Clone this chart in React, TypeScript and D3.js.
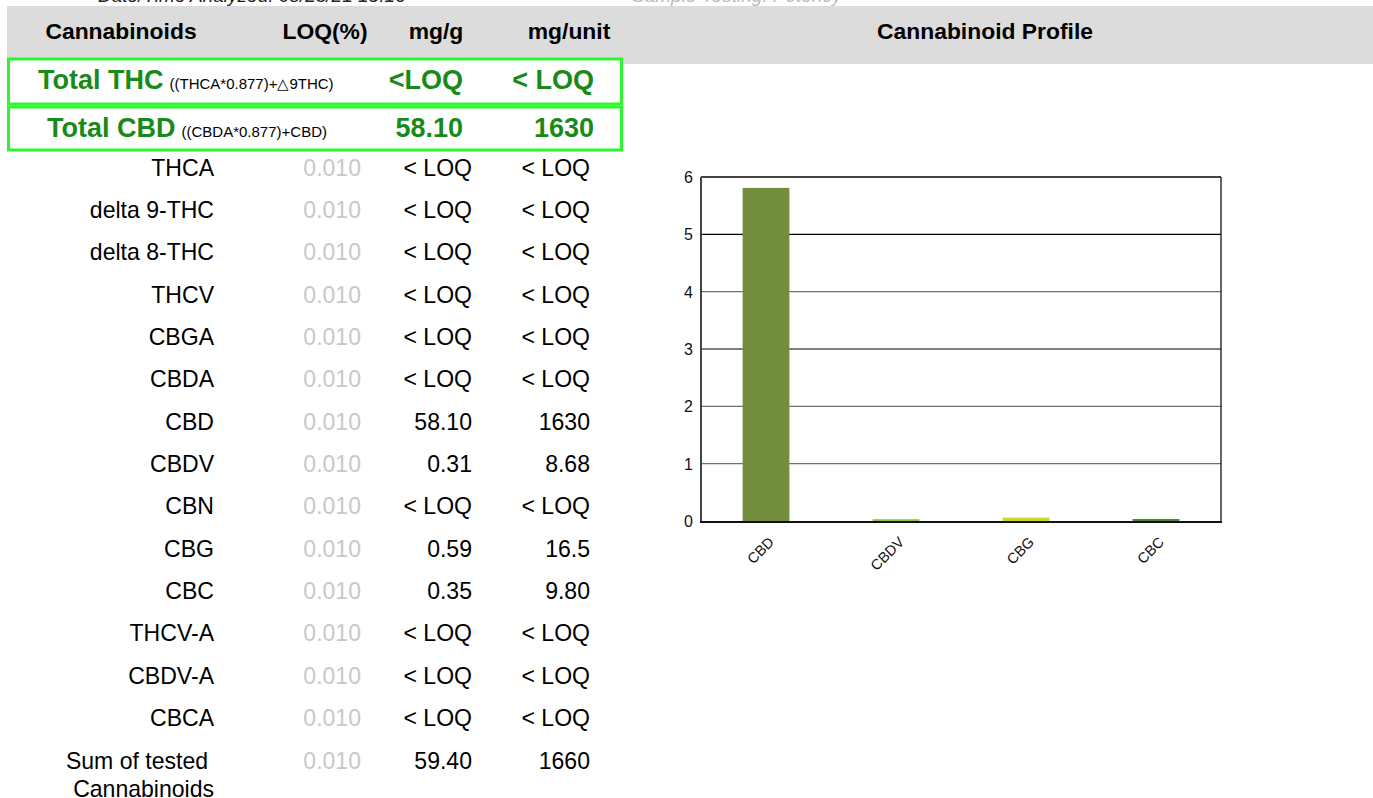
import React from 'react';
import * as d3 from 'd3';

// table data
const compounds = ['THCA', 'delta 9-THC', 'delta 8-THC', 'THCV', 'CBGA', 'CBDA', 'CBD', 'CBDV', 'CBN', 'CBG', 'CBC', 'THCV-A', 'CBDV-A', 'CBCA'];
const loqValues = ['0.010', '0.010', '0.010', '0.010', '0.010', '0.010', '0.010', '0.010', '0.010', '0.010', '0.010', '0.010', '0.010', '0.010'];
const mgPerGram = ['< LOQ', '< LOQ', '< LOQ', '< LOQ', '< LOQ', '< LOQ', '58.10', '0.31', '< LOQ', '0.59', '0.35', '< LOQ', '< LOQ', '< LOQ'];
const mgPerUnit = ['< LOQ', '< LOQ', '< LOQ', '< LOQ', '< LOQ', '< LOQ', '1630', '8.68', '< LOQ', '16.5', '9.80', '< LOQ', '< LOQ', '< LOQ'];
const sumRow = { loq: '0.010', mgg: '59.40', mgu: '1660' };
const totals = [
  { label: 'Total THC', formula: '((THCA*0.877)+\u25B39THC)', mgg: '<LOQ', mgu: '< LOQ' },
  { label: 'Total CBD', formula: '((CBDA*0.877)+CBD)', mgg: '58.10', mgu: '1630' },
];
const headers = ['Cannabinoids', 'LOQ(%)', 'mg/g', 'mg/unit'];

// chart data (percent)
const chartLabels = ['CBD', 'CBDV', 'CBG', 'CBC'];
const chartValues = [5.81, 0.031, 0.059, 0.035];
const barColors = ['#728e3d', '#8cc43f', '#c8d82c', '#4a8a3f'];
const yTicks = [0, 1, 2, 3, 4, 5, 6];

const FONT = '"Liberation Sans", Arial, Helvetica, sans-serif';
const GREEN = '#178a17';
const BOX = '#2ff52f';

function T({ x, y, size, sx = 1, anchor = 'start', weight = 'normal', fill = '#000', italic = false, rotate = 0, children }: any) {
  const tf = `translate(${x},${y}) scale(${sx},1)` + (rotate ? ` rotate(${rotate})` : '');
  return (
    <text transform={tf} fontSize={size} fontFamily={FONT} fontWeight={weight} fill={fill}
      textAnchor={anchor} fontStyle={italic ? 'italic' : 'normal'}>
      {children}
    </text>
  );
}

const App = () => {
  const W = 1373, H = 798;
  const plot = { left: 701, right: 1221, top: 177, bottom: 521 };

  const x = d3.scaleBand<string>()
    .domain(chartLabels)
    .range([plot.left, plot.right])
    .paddingInner(0.64)
    .paddingOuter(0.32);
  const y = d3.scaleLinear().domain([0, 6]).range([plot.bottom, plot.top]);

  const rowY = (i: number) => 175.5 + i * 42.36;
  const colName = 214, colLoq = 361, colMgg = 472, colMgu = 590;

  return (
    <svg width={W} height={H} style={{ position: 'absolute', left: 0, top: 0, display: 'block' }}>
      <rect x={0} y={0} width={W} height={H} fill="#fff" />

      {/* clipped line above the table */}
      <T x={98} y={2} size={19} italic fill="#222">Date/Time Analyzed: 08/23/21 15:16</T>
      <T x={632} y={2} size={19} italic fill="#bbb">Sample Testing: Potency</T>

      {/* header band */}
      <rect x={7} y={6} width={W - 7} height={58} fill="#dcdcdc" />
      <T x={121} y={38.5} size={22} sx={1.04} weight="bold" anchor="middle">{headers[0]}</T>
      <T x={325} y={38.5} size={22} sx={1.04} weight="bold" anchor="middle">{headers[1]}</T>
      <T x={436} y={38.5} size={22} sx={1.04} weight="bold" anchor="middle">{headers[2]}</T>
      <T x={569} y={38.5} size={22} sx={1.04} weight="bold" anchor="middle">{headers[3]}</T>
      <T x={985} y={38.5} size={22} sx={1.04} weight="bold" anchor="middle">Cannabinoid Profile</T>

      {/* total rows */}
      {totals.map((t, i) => {
        const top = i === 0 ? 59 : 107;
        const h = i === 0 ? 45 : 43;
        const base = i === 0 ? 89 : 137;
        const lx = i === 0 ? 38 : 47;
        return (
          <g key={t.label}>
            <rect x={8.5} y={top} width={613} height={h} fill="#fff" stroke={BOX} strokeWidth={3} />
            <T x={lx} y={base} size={27} weight="bold" fill={GREEN}>
              {t.label}
              <tspan fontSize={15} fontWeight="normal" fill="#000" dx={6}>{t.formula}</tspan>
            </T>
            <T x={463} y={base} size={27} weight="bold" fill={GREEN} anchor="end">{t.mgg}</T>
            <T x={594} y={base} size={27} weight="bold" fill={GREEN} anchor="end">{t.mgu}</T>
          </g>
        );
      })}

      {/* compound rows */}
      {compounds.map((c, i) => (
        <g key={c}>
          <T x={colName} y={rowY(i)} size={24} sx={0.96} anchor="end">{c}</T>
          <T x={colLoq} y={rowY(i)} size={24} sx={0.96} anchor="end" fill="#c8c8c8">{loqValues[i]}</T>
          <T x={colMgg} y={rowY(i)} size={24} sx={0.96} anchor="end">{mgPerGram[i]}</T>
          <T x={colMgu} y={rowY(i)} size={24} sx={0.96} anchor="end">{mgPerUnit[i]}</T>
        </g>
      ))}
      <T x={208} y={rowY(14)} size={24} sx={0.96} anchor="end">Sum of tested</T>
      <T x={214} y={rowY(14) + 28.5} size={24} sx={0.96} anchor="end">Cannabinoids</T>
      <T x={colLoq} y={rowY(14)} size={24} sx={0.96} anchor="end" fill="#c8c8c8">{sumRow.loq}</T>
      <T x={colMgg} y={rowY(14)} size={24} sx={0.96} anchor="end">{sumRow.mgg}</T>
      <T x={colMgu} y={rowY(14)} size={24} sx={0.96} anchor="end">{sumRow.mgu}</T>

      {/* chart */}
      <g>
        {yTicks.filter(t => t > 0 && t < 6).map(t => (
          <line key={t} x1={plot.left} x2={plot.right} y1={y(t)} y2={y(t)}
            stroke={t === 5 || t === 3 ? '#000' : '#707070'} strokeWidth={1.2} />
        ))}
        {chartLabels.map((c, i) => (
          <rect key={c} x={x(c)} width={x.bandwidth()} y={y(chartValues[i])}
            height={y(0) - y(chartValues[i])} fill={barColors[i]} />
        ))}
        <line x1={plot.left} x2={plot.right} y1={plot.top} y2={plot.top} stroke="#444" strokeWidth={2} />
        <line x1={plot.right} x2={plot.right} y1={plot.top} y2={plot.bottom} stroke="#000" strokeWidth={1.2} />
        <line x1={plot.left} x2={plot.left} y1={plot.top} y2={plot.bottom} stroke="#444" strokeWidth={2} />
        <line x1={plot.left - 1} x2={plot.right + 1} y1={plot.bottom + 1} y2={plot.bottom + 1} stroke="#111" strokeWidth={2} />
        {yTicks.map(t => (
          <T key={t} x={693} y={y(t) + 6} size={16} anchor="end" fill="#111">{t}</T>
        ))}
        {chartLabels.map(c => (
          <T key={c} x={(x(c) as number) + x.bandwidth() / 2 + 9} y={543} size={14.5} anchor="end" rotate={-45} fill="#111">{c}</T>
        ))}
      </g>
    </svg>
  );
};

export default App;
